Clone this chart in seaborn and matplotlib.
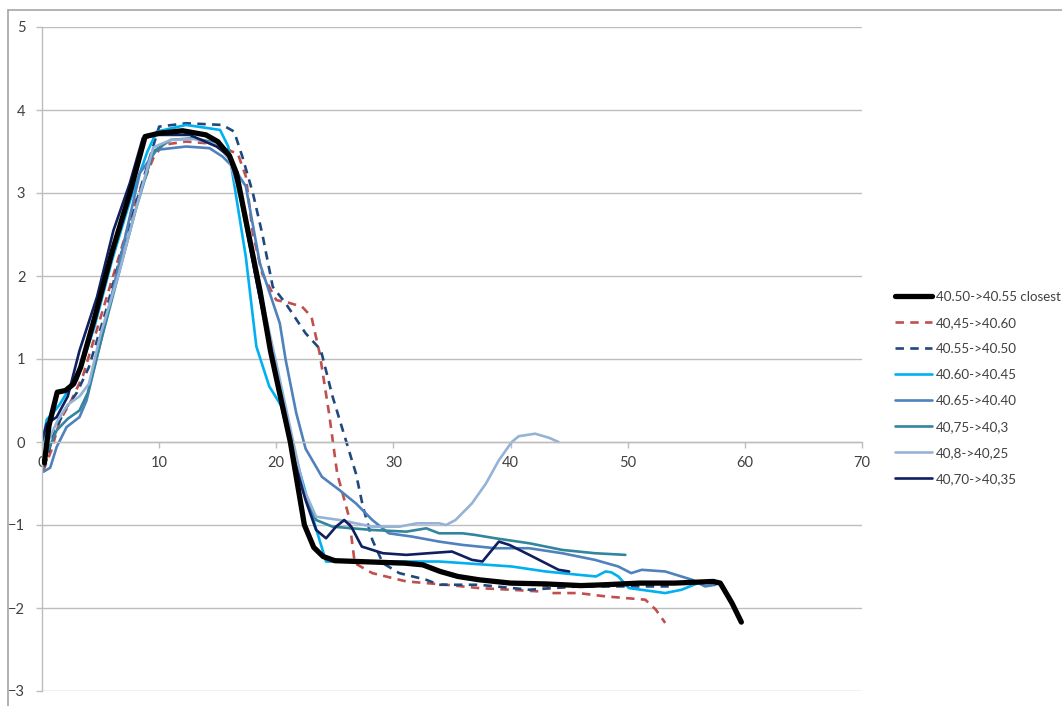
import matplotlib
matplotlib.use("Agg")
import matplotlib.pyplot as plt
from matplotlib.lines import Line2D
import seaborn as sns
import pandas as pd

# ---- data ----
labels = ["40.50->40.55 closest", "40,45->40.60", "40.55->40.50", "40.60->40.45",
          "40.65->40.40", "40,75->40,3", "40,8->40,25", "40,70->40,35"]

x_black = [0.2, 0.6, 1.3, 2.0, 2.7, 3.3, 4.5, 6, 7.5, 8.8, 10, 12, 14, 15, 16, 16.6, 17.5, 18.6, 19.5, 20.5,
           21.2, 22.4, 23.2, 24, 25, 27, 29, 31, 32.5, 34, 35.5, 37.3, 40, 43, 46, 48, 51, 54, 57.3, 57.9, 58.9, 59.7]
y_black = [-0.25, 0.2, 0.6, 0.62, 0.7, 0.9, 1.5, 2.3, 3.0, 3.68, 3.72, 3.75, 3.7, 3.62, 3.45, 3.24, 2.6, 1.83, 1.1, 0.45,
           0.0, -1.0, -1.27, -1.38, -1.43, -1.44, -1.45, -1.46, -1.48, -1.56, -1.62, -1.66, -1.70, -1.71, -1.73, -1.72,
           -1.70, -1.70, -1.68, -1.70, -1.94, -2.17]

x_red = [0.1, 0.8, 1.5, 2.5, 3.5, 5, 6.5, 8, 9.5, 10.3, 12.3, 14, 15.4, 16.2, 16.7, 17.4, 18.0, 18.8, 20.0, 21,
         22.2, 23.0, 23.7, 24.5, 25.2, 26.2, 26.7, 28.2, 31.1, 34.5, 37.3, 40, 42.4, 43, 43.5, 45.8, 48.1, 51.5, 52.4, 53.2]
y_red = [-0.35, -0.1, 0.25, 0.5, 0.8, 1.5, 2.2, 2.9, 3.42, 3.58, 3.62, 3.6, 3.56, 3.5, 3.48, 3.2, 2.51, 2.03, 1.71, 1.68,
         1.63, 1.51, 1.07, 0.35, -0.38, -0.9, -1.46, -1.58, -1.68, -1.72, -1.76, -1.78, -1.80, -1.72, -1.82, -1.82, -1.86,
         -1.90, -2.02, -2.18]

x_dblue = [0.2, 1, 2, 3, 4, 5.5, 7, 8.5, 10, 12.3, 15.4, 16.4, 17.1, 18.0, 18.8, 19.7, 20.8, 22.5, 23.8, 24.8,
           26.8, 27.4, 28.2, 29.1, 30.5, 32.8, 33.9, 37.3, 41.6, 45.8, 48, 52.6, 53.5]
y_dblue = [-0.3, 0.1, 0.4, 0.6, 0.9, 1.6, 2.4, 3.1, 3.80, 3.84, 3.82, 3.74, 3.44, 3.0, 2.51, 1.87, 1.67, 1.31, 1.11, 0.55,
           -0.38, -0.78, -1.18, -1.46, -1.58, -1.66, -1.72, -1.72, -1.78, -1.74, -1.74, -1.74, -1.74]

x_cyan = [0, 0.4, 0.95, 1.5, 2.1, 3, 4.5, 6, 7.5, 9, 9.8, 12.3, 15.2, 15.9, 16.3, 17.4, 18.3, 19.4, 20.8, 21.3,
          23.0, 24.25, 28.2, 33.9, 35, 40.1, 43, 45.8, 47.3, 48.1, 48.6, 49.2, 50.1, 53.2, 54.6, 56, 57.7]
y_cyan = [-0.05, 0.27, 0.35, 0.45, 0.59, 0.75, 1.4, 2.2, 2.9, 3.5, 3.74, 3.82, 3.76, 3.56, 3.2, 2.23, 1.15, 0.67, 0.35, 0.0,
          -0.86, -1.44, -1.44, -1.44, -1.45, -1.50, -1.56, -1.60, -1.62, -1.56, -1.57, -1.62, -1.76, -1.82, -1.78,
          -1.70, -1.70]

x_steel = [0.1, 0.7, 1.25, 2.1, 3.2, 3.8, 5, 6.5, 8.35, 9.8, 12.3, 14.3, 15.4, 16.4, 17.4, 18.6, 20.3, 20.8, 21.7,
           22.5, 23.9, 25.4, 26.8, 28.2, 29.6, 31.6, 33.9, 35.9, 38.7, 41.6, 44.4, 47.2, 49.2, 50.3, 51.2, 53.2, 55.5,
           56.6, 57.5]
y_steel = [-0.36, -0.31, -0.06, 0.18, 0.3, 0.5, 1.2, 2.1, 3.24, 3.52, 3.56, 3.54, 3.44, 3.3, 3.08, 2.15, 1.43, 0.99, 0.35,
           -0.08, -0.42, -0.58, -0.74, -0.94, -1.1, -1.14, -1.2, -1.24, -1.28, -1.28, -1.34, -1.42, -1.50, -1.58, -1.54,
           -1.56, -1.66, -1.74, -1.72]

x_teal = [0, 0.4, 1.25, 2.2, 3.2, 3.9, 5, 6.5, 8, 9.5, 11, 13, 15, 16, 17, 18.5, 20, 21.2, 22.3, 23.4, 24.8, 26.5,
          28.2, 31.1, 32.8, 33.9, 35.9, 37, 38.7, 41.6, 44.4, 47.2, 49.8]
y_teal = [-0.3, -0.14, 0.14, 0.28, 0.38, 0.59, 1.2, 2.0, 2.8, 3.5, 3.64, 3.66, 3.6, 3.45, 2.9, 1.8, 0.9, 0.1, -0.6, -0.94,
          -1.02, -1.04, -1.06, -1.08, -1.04, -1.10, -1.10, -1.12, -1.16, -1.22, -1.30, -1.34, -1.36]

x_light = [0, 0.5, 1.3, 2.2, 3.2, 4, 5, 6.5, 8, 9.5, 11, 13, 15, 16, 17, 18.5, 20, 21.3, 22.3, 23.4, 25.4, 28.2,
           30.5, 32, 33.9, 34.5, 35.3, 36.7, 37.9, 39.0, 40.1, 40.7, 42.1, 43.3, 44.1]
y_light = [-0.2, 0.0, 0.25, 0.45, 0.55, 0.7, 1.3, 2.0, 2.8, 3.55, 3.64, 3.65, 3.58, 3.4, 2.9, 1.9, 0.95, 0.1, -0.55, -0.9,
           -0.94, -1.02, -1.02, -0.98, -0.98, -1.0, -0.94, -0.74, -0.5, -0.22, 0.0, 0.07, 0.1, 0.05, 0.0]

x_navy = [0, 0.4, 1.25, 2.2, 3.2, 4.7, 6.1, 7.5, 8.6, 9.8, 12.6, 14.9, 16.0, 17, 18.3, 19.5, 20.5, 21.5, 22.5, 23.4,
          24.25, 25.1, 25.8, 26.4, 27.3, 29.1, 31.1, 33.0, 35.0, 36.7, 37.6, 39.0, 39.9, 41.6, 44.1, 45.0]
y_navy = [0.02, 0.22, 0.3, 0.55, 1.1, 1.75, 2.55, 3.12, 3.66, 3.7, 3.7, 3.56, 3.44, 2.95, 1.95, 1.1, 0.4, -0.2, -0.7,
          -1.06, -1.16, -1.02, -0.94, -1.02, -1.26, -1.34, -1.36, -1.34, -1.32, -1.42, -1.44, -1.20, -1.24, -1.36,
          -1.54, -1.56]

xs = [x_black, x_red, x_dblue, x_cyan, x_steel, x_teal, x_light, x_navy]
ys = [y_black, y_red, y_dblue, y_cyan, y_steel, y_teal, y_light, y_navy]

x_ticks = [0, 10, 20, 30, 40, 50, 60, 70]
y_ticks = [-3, -2, -1, 0, 1, 2, 3, 4, 5]

# ---- styles ----
colors = ["#000000", "#C0504D", "#1F497D", "#00B0F0", "#4F81BD", "#31859C", "#95B3D7", "#0F1F5F"]
styles = ["-", (0, (3.2, 2.4)), (0, (3.2, 2.4)), "-", "-", "-", "-", "-"]
widths = [3.8, 1.9, 1.9, 1.9, 1.9, 1.9, 1.9, 1.9]
zorders = [3.5, 2.2, 2.2, 2.3, 2.3, 2.3, 2.3, 2.4]

sns.set_style("white")
plt.rcParams["font.family"] = ["Lato", "DejaVu Sans"]

fig = plt.figure(figsize=(10.62, 7.06), dpi=100)
ax = fig.add_axes([42 / 1062, 15 / 706, 820 / 1062, 664 / 706])

for i, lab in enumerate(labels):
    df = pd.DataFrame({"x": xs[i], "y": ys[i]})
    sns.lineplot(data=df, x="x", y="y", ax=ax, sort=False, estimator=None, color=colors[i],
                 linestyle=styles[i], linewidth=widths[i], label=lab, zorder=zorders[i])

ax.set_xlim(0, 70)
ax.set_ylim(-3, 5)
ax.set_xticks(x_ticks)
ax.set_yticks(y_ticks)
ax.set_xlabel("")
ax.set_ylabel("")
grid_c = "#BDBDBD"
ax.grid(axis="y", color=grid_c, linewidth=1.0)
ax.grid(axis="x", visible=False)
for s in ["top", "right"]:
    ax.spines[s].set_visible(False)
ax.spines["left"].set_color(grid_c)
ax.spines["left"].set_linewidth(1.0)
ax.spines["bottom"].set_position(("data", 0))
ax.spines["bottom"].set_color(grid_c)
ax.spines["bottom"].set_linewidth(1.0)
ax.tick_params(axis="x", direction="out", length=4, color=grid_c, width=1, labelsize=10.5,
               labelcolor="#404040", pad=6, bottom=True)
ax.tick_params(axis="y", direction="out", length=4, color=grid_c, width=1, labelsize=10.5,
               labelcolor="#404040", pad=8, left=True)

handles, labs = ax.get_legend_handles_labels()
ax.get_legend().remove()
fig.legend(handles, labs, loc="center left", bbox_to_anchor=(895 / 1062, 1 - 388 / 706),
           frameon=False, fontsize=9.6, handlelength=2.8, handletextpad=0.3,
           labelspacing=1.05, borderpad=0, borderaxespad=0, labelcolor="#404040")

# outer chart border
fig.add_artist(Line2D([8 / 1062, 1.0], [1 - 10 / 706, 1 - 10 / 706], color="#A6A6A6", linewidth=1.2,
                      transform=fig.transFigure))
fig.add_artist(Line2D([8 / 1062, 8 / 1062], [0.0, 1 - 10 / 706], color="#A6A6A6", linewidth=1.2,
                      transform=fig.transFigure))

fig.savefig("out.png", dpi=100)
